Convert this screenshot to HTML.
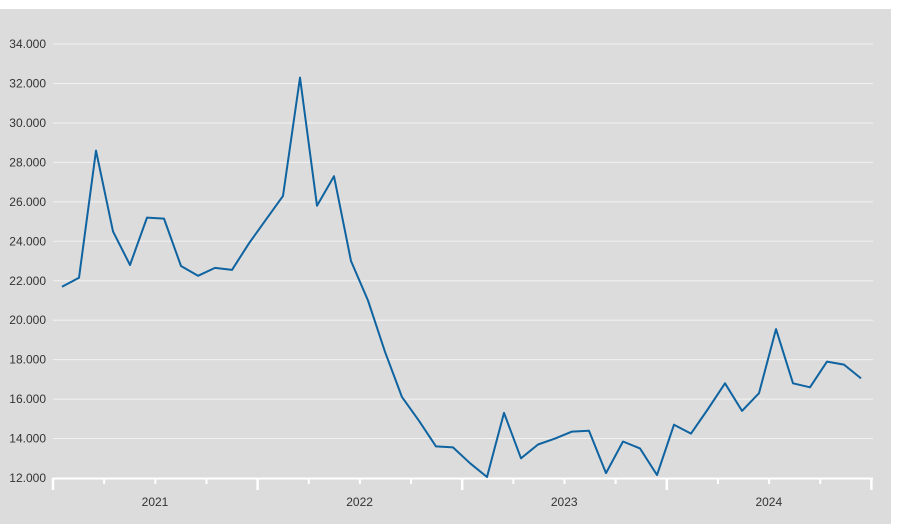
<!DOCTYPE html>
<html><head><meta charset="utf-8"><style>
html,body{margin:0;padding:0;width:898px;height:524px;overflow:hidden;background:#fff;}
</style></head><body>
<svg id="s" width="898" height="524" xmlns="http://www.w3.org/2000/svg" font-family="Liberation Sans, sans-serif">
<rect x="0" y="0" width="898" height="524" fill="#fff"/>
<rect x="0" y="9" width="891" height="515" fill="#dcdcdc"/>
<g id="g"></g>
</svg>
<script>
const g=document.getElementById('g');let h='';
const Y=v=>478-(v-12000)/2000*39.45;
for(let v=12000;v<=34000;v+=2000){const y=Y(v);
 h+=`<line x1="53" x2="873" y1="${y}" y2="${y}" stroke="#f2f2f2" stroke-width="1"/>`;
 h+=`<text x="46" y="${y+4}" text-anchor="end" font-size="12" fill="#333">${(v/1000).toFixed(3)}</text>`;}
h+=`<line x1="53" x2="873" y1="478.5" y2="478.5" stroke="#fff" stroke-width="2"/>`;
for(let i=0;i<=16;i++){const x=53+i*51.15;const maj=i%4==0;
 h+=`<line x1="${x}" x2="${x}" y1="478" y2="${maj?490:484}" stroke="#fff" stroke-width="${maj?2.5:2}"/>`;}
['2021','2022','2023','2024'].forEach((t,i)=>{h+=`<text x="${155+i*204.6}" y="506" text-anchor="middle" font-size="12" fill="#333">${t}</text>`;});
const d=[21700,22150,28600,24500,22800,25200,25150,22750,22250,22650,22550,23900,25100,26300,32300,25800,27300,23000,21000,18400,16100,14900,13600,13550,12750,12050,15300,13000,13700,14000,14350,14400,12250,13850,13500,12150,14700,14250,15500,16800,15400,16300,19550,16800,16600,17900,17750,17050];
const pts=d.map((v,i)=>`${(62+i*17.0).toFixed(1)},${Y(v).toFixed(1)}`).join(' ');
h+=`<polyline points="${pts}" fill="none" stroke="#0e63a0" stroke-width="2" stroke-linejoin="round"/>`;
g.innerHTML=h;
</script>
</body></html>
